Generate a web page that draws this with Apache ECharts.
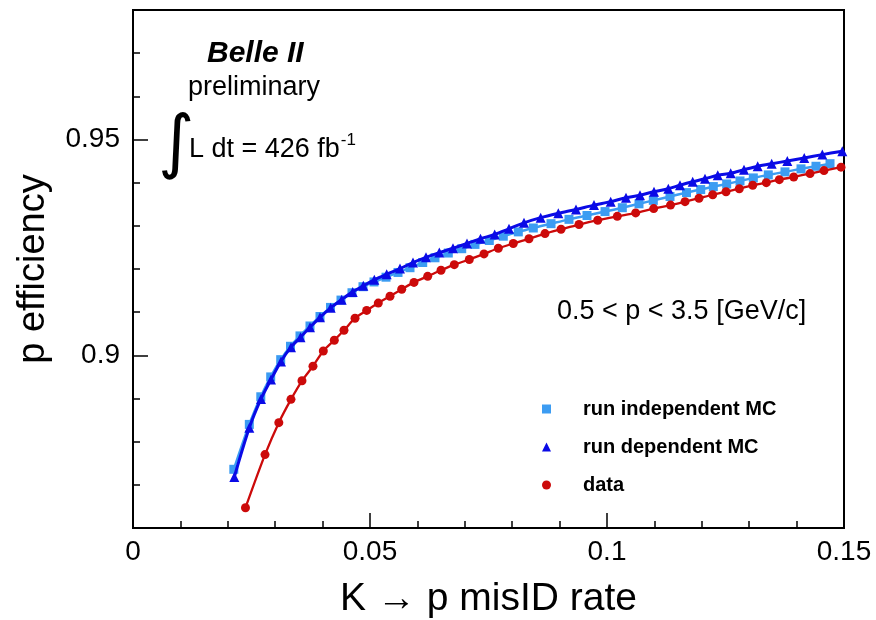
<!DOCTYPE html>
<html>
<head>
<meta charset="utf-8">
<script src="https://cdn.jsdelivr.net/npm/echarts@6/dist/echarts.min.js"></script>
<style>
  html, body { margin: 0; padding: 0; background: #fff; }
  #chart { width: 876px; height: 620px; }
</style>
</head>
<body>
<div id="chart"></div>
<script>
// K -> p misID rate (x) versus proton efficiency (y)
const indepMisID = [0.02127,0.02454,0.02696,0.02905,0.03116,0.03323,0.03523,0.03734,0.03945,0.04167,0.04388,0.04620,0.04852,0.05084,0.05338,0.05591,0.05844,0.06112,0.06371,0.06652,0.06935,0.07215,0.07517,0.07812,0.08129,0.08445,0.08819,0.09198,0.09578,0.09958,0.10323,0.10675,0.10977,0.11329,0.11677,0.11977,0.12243,0.12525,0.12806,0.13087,0.13403,0.13755,0.14093,0.14409,0.14705];
const indepEff   = [0.8736,0.8840,0.8904,0.8950,0.8990,0.9021,0.9045,0.9068,0.9090,0.9111,0.9128,0.9145,0.9159,0.9170,0.9181,0.9192,0.9203,0.9215,0.9226,0.9237,0.9247,0.9257,0.9266,0.9276,0.9286,0.9295,0.9305,0.9315,0.9324,0.9333,0.9342,0.9351,0.9359,0.9368,0.9377,0.9384,0.9391,0.9397,0.9404,0.9411,0.9418,0.9425,0.9432,0.9438,0.9444];

const depMisID = [0.02137,0.02454,0.02700,0.02911,0.03122,0.03333,0.03534,0.03734,0.03945,0.04171,0.04403,0.04635,0.04859,0.05091,0.05352,0.05633,0.05907,0.06181,0.06462,0.06751,0.07046,0.07331,0.07631,0.07932,0.08249,0.08601,0.08973,0.09346,0.09726,0.10078,0.10401,0.10696,0.10992,0.11293,0.11540,0.11808,0.12068,0.12336,0.12610,0.12890,0.13179,0.13475,0.13804,0.14162,0.14542,0.14964];
const depEff   = [0.8718,0.8832,0.8899,0.8944,0.8986,0.9019,0.9042,0.9065,0.9088,0.9110,0.9129,0.9147,0.9161,0.9175,0.9188,0.9201,0.9215,0.9227,0.9238,0.9248,0.9259,0.9270,0.9280,0.9293,0.9307,0.9319,0.9329,0.9338,0.9348,0.9356,0.9365,0.9371,0.9379,0.9386,0.9394,0.9402,0.9409,0.9417,0.9422,0.9430,0.9438,0.9444,0.9450,0.9457,0.9465,0.9473];

const dataMisID = [0.02373,0.02785,0.03076,0.03333,0.03565,0.03797,0.04015,0.04247,0.04451,0.04684,0.04930,0.05175,0.05422,0.05669,0.05928,0.06217,0.06498,0.06778,0.07095,0.07405,0.07707,0.08023,0.08354,0.08692,0.09030,0.09409,0.09804,0.10217,0.10605,0.10985,0.11340,0.11646,0.11941,0.12230,0.12511,0.12791,0.13074,0.13361,0.13635,0.13939,0.14283,0.14578,0.14937];
const dataEff   = [0.8647,0.8770,0.8844,0.8898,0.8941,0.8975,0.9010,0.9035,0.9058,0.9086,0.9104,0.9121,0.9137,0.9153,0.9169,0.9183,0.9197,0.9210,0.9222,0.9235,0.9248,0.9259,0.9270,0.9282,0.9292,0.9303,0.9313,0.9322,0.9330,0.9340,0.9348,0.9356,0.9364,0.9372,0.9379,0.9386,0.9394,0.9400,0.9407,0.9413,0.9421,0.9428,0.9436];

const seriesNames = ['run independent MC', 'run dependent MC', 'data'];
const xTickLabels = [0, 0.05, 0.1, 0.15];
const yTickLabels = [0.9, 0.95];

const pairs = (xs, ys) => xs.map((x, i) => [x, ys[i]]);

const FONT = '"Liberation Sans", Arial, Helvetica, sans-serif';
const chart = echarts.init(document.getElementById('chart'), null, { renderer: 'canvas' });

chart.setOption({
  backgroundColor: '#ffffff',
  animation: false,
  grid: {
    left: 133, right: 32, top: 10, bottom: 92,
    outerBoundsMode: 'none', containLabel: false,
    show: true, borderColor: '#000', borderWidth: 2, backgroundColor: 'transparent'
  },
  xAxis: {
    type: 'value', min: 0, max: 0.15, interval: 0.05,
    name: 'K \u2192 p misID rate', nameLocation: 'middle', nameGap: 52,
    nameTextStyle: { fontFamily: FONT, fontSize: 39, color: '#000' },
    axisLine: { lineStyle: { color: '#000', width: 2 } },
    axisTick: { inside: true, length: 15, lineStyle: { color: '#000', width: 1.5 } },
    minorTick: { show: true, splitNumber: 5, length: 7, lineStyle: { color: '#000', width: 1.5 } },
    axisLabel: {
      customValues: xTickLabels,
      fontFamily: FONT, fontSize: 28, color: '#000', margin: 10,
      formatter: v => String(+v.toFixed(2))
    },
    splitLine: { show: false }, minorSplitLine: { show: false }
  },
  yAxis: [
    {
      type: 'value', min: 0.86, max: 0.98, interval: 0.01, position: 'left',
      name: 'p efficiency', nameLocation: 'middle', nameGap: 80,
      nameTextStyle: { fontFamily: FONT, fontSize: 38, color: '#000' },
      axisLine: { lineStyle: { color: '#000', width: 2 } },
      axisTick: { inside: true, length: 7, lineStyle: { color: '#000', width: 1.5 } },
      axisLabel: { show: false },
      splitLine: { show: false }
    },
    {
      type: 'value', min: 0.86, max: 0.98, position: 'left', offset: 0,
      axisLine: { show: false },
      axisTick: { show: true, inside: true, length: 15, customValues: yTickLabels,
                  lineStyle: { color: '#000', width: 1.5 } },
      axisLabel: {
        customValues: yTickLabels,
        fontFamily: FONT, fontSize: 28, color: '#000', margin: 13,
        formatter: v => String(+v.toFixed(2))
      },
      splitLine: { show: false }
    }
  ],
  legend: {
    orient: 'vertical', left: 537, top: 394, itemGap: 18,
    itemWidth: 9, itemHeight: 9,
    textStyle: { fontFamily: FONT, fontSize: 20, fontWeight: 'bold', color: '#000', padding: [0, 0, 0, 27] },
    data: [
      { name: seriesNames[0], icon: 'rect' },
      { name: seriesNames[1], icon: 'triangle' },
      { name: seriesNames[2], icon: 'circle' }
    ]
  },
  series: [
    {
      name: seriesNames[0], type: 'line', smooth: 0.3, yAxisIndex: 0,
      data: pairs(indepMisID, indepEff),
      symbol: 'rect', symbolSize: 9,
      itemStyle: { color: '#3c9cf2' },
      lineStyle: { color: '#3c9cf2', width: 2.5 }, z: 2
    },
    {
      name: seriesNames[1], type: 'line', smooth: 0.3, yAxisIndex: 0,
      data: pairs(depMisID, depEff),
      symbol: 'triangle', symbolSize: 10,
      itemStyle: { color: '#0a0ae6' },
      lineStyle: { color: '#0a0ae6', width: 3 }, z: 3
    },
    {
      name: seriesNames[2], type: 'line', smooth: 0.3, yAxisIndex: 0,
      data: pairs(dataMisID, dataEff),
      symbol: 'circle', symbolSize: 9,
      itemStyle: { color: '#cc0a0a' },
      lineStyle: { color: '#cc0a0a', width: 2.3 }, z: 4
    }
  ],
  graphic: [
    { type: 'text', left: 207, top: 39,
      style: { text: 'Belle II', font: 'italic bold 30px ' + FONT, fill: '#000' } },
    { type: 'text', left: 188, top: 74,
      style: { text: 'preliminary', font: '27px ' + FONT, fill: '#000' } },
    { type: 'text', left: 158, top: 112,
      style: { text: '\u222B', font: '70px "DejaVu Sans", ' + FONT, fill: '#000' } },
    { type: 'text', left: 189, top: 132,
      style: {
        text: '{m|L dt = 426 fb}{s|-1}',
        rich: {
          m: { font: '27px ' + FONT, fill: '#000', verticalAlign: 'bottom' },
          s: { font: '17px ' + FONT, fill: '#000', verticalAlign: 'top', padding: [0, 0, 14, 1] }
        }
      } },
    { type: 'text', left: 557, top: 298,
      style: { text: '0.5 < p < 3.5 [GeV/c]', font: '27px ' + FONT, fill: '#000' } }
  ]
});
</script>
</body>
</html>
